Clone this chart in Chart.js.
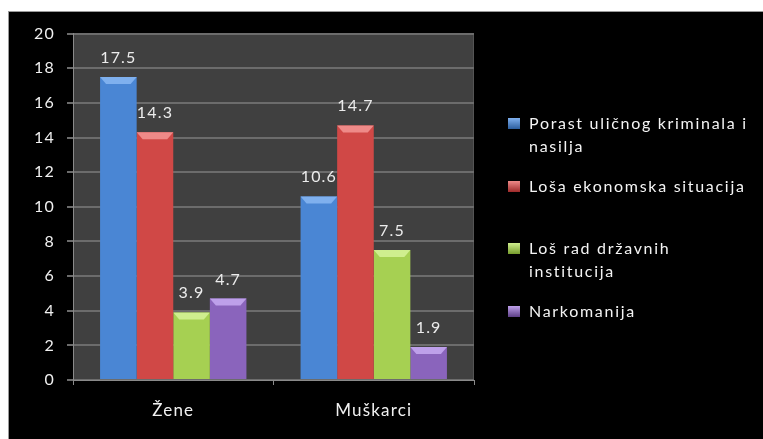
<!DOCTYPE html>
<html>
<head>
<meta charset="utf-8">
<script src="https://cdn.jsdelivr.net/npm/chart.js@4"></script>
<style>
  body { margin: 0; background: #fff; }
  #frame { position: absolute; left: 8px; top: 11px; width: 754px; height: 427px;
           background: #000; border-top: 1px solid #9a9a9a; border-left: 1px solid #9a9a9a; }
  canvas { display: block; }
</style>
</head>
<body>
<div id="frame"><canvas id="chart" width="754" height="427"></canvas></div>
<script>
// data
const categories = ['Žene', 'Muškarci'];
const seriesNames = [
  ['Porast uličnog kriminala i', 'nasilja'],
  ['Loša ekonomska situacija'],
  ['Loš rad državnih', 'institucija'],
  ['Narkomanija']
];
const kriminal = [17.5, 10.6];
const ekonomija = [14.3, 14.7];
const institucije = [3.9, 7.5];
const narkomanija = [4.7, 1.9];
const yTicks = [0, 2, 4, 6, 8, 10, 12, 14, 16, 18, 20];

// base colours: [edge, centre, top bevel]
const palette = [
  ['#2c5e9e', '#4a86d4', '#7fb0ee'],
  ['#9e2a2a', '#d04846', '#ee8a88'],
  ['#769c2c', '#a6d052', '#cfee8e'],
  ['#5d3f86', '#8a64bc', '#bea0ea']
];

const FONT = 'Lato, "Liberation Sans", sans-serif';
const ctx = document.getElementById('chart').getContext('2d');

function barGradient(i) {
  return function (c) {
    const el = c.element;
    if (!el || el.width === undefined) return palette[i][1];
    const x0 = el.x - el.width / 2, x1 = el.x + el.width / 2;
    const g = c.chart.ctx.createLinearGradient(x0, 0, x1, 0);
    g.addColorStop(0, palette[i][0]);
    g.addColorStop(0.3, palette[i][1]);
    g.addColorStop(0.6, palette[i][1]);
    g.addColorStop(1, palette[i][0]);
    return g;
  };
}

const plotBg = {
  id: 'plotBg',
  beforeDraw(chart) {
    const a = chart.chartArea, c = chart.ctx;
    c.letterSpacing = '1.2px';
    c.save();
    c.fillStyle = '#404040';
    c.fillRect(a.left, a.top, a.right - a.left, a.bottom - a.top);
    c.strokeStyle = '#555';
    c.strokeRect(a.left + 0.5, a.top + 0.5, a.right - a.left - 1, a.bottom - a.top - 1);
    c.restore();
  }
};

const bevelAndLabels = {
  id: 'bevelAndLabels',
  afterDatasetsDraw(chart) {
    const c = chart.ctx;
    c.save();
    chart.data.datasets.forEach((ds, i) => {
      chart.getDatasetMeta(i).data.forEach((bar, j) => {
        const l = bar.x - bar.width / 2, r = bar.x + bar.width / 2;
        const h = Math.min(7, bar.base - bar.y);
        c.fillStyle = palette[i][2];
        c.beginPath();
        c.moveTo(l, bar.y);
        c.lineTo(r, bar.y);
        c.lineTo(r - 6, bar.y + h);
        c.lineTo(l + 6, bar.y + h);
        c.closePath();
        c.fill();
        c.fillStyle = '#ececec';
        c.font = '16px ' + FONT;
        c.textAlign = 'center';
        c.textBaseline = 'alphabetic';
        c.fillText(ds.data[j].toFixed(1), bar.x, bar.y - 14);
      });
    });
    c.restore();
  }
};

const sideLegend = {
  id: 'sideLegend',
  afterDraw(chart) {
    const c = chart.ctx;
    const rows = [112, 175, 237, 300];
    c.save();
    c.font = '16px ' + FONT;
    c.letterSpacing = '1.7px';
    c.textBaseline = 'middle';
    c.textAlign = 'left';
    seriesNames.forEach((lines, i) => {
      const y = rows[i];
      const g = c.createLinearGradient(0, y - 6, 0, y + 5);
      g.addColorStop(0, palette[i][2]);
      g.addColorStop(1, palette[i][0]);
      c.fillStyle = g;
      c.fillRect(499, y - 6, 12, 11);
      c.fillStyle = '#f4f4f4';
      lines.forEach((t, k) => c.fillText(t, 520, y + k * 23));
    });
    c.restore();
  }
};

new Chart(ctx, {
  type: 'bar',
  data: {
    labels: categories,
    datasets: [kriminal, ekonomija, institucije, narkomanija].map((d, i) => ({
      label: seriesNames[i].join(' '),
      data: d,
      backgroundColor: barGradient(i),
      borderWidth: 0,
      categoryPercentage: 0.73,
      barPercentage: 1
    }))
  },
  options: {
    responsive: false,
    animation: false,
    layout: { padding: { top: 21, right: 289, left: 0, bottom: 0 } },
    plugins: { legend: { display: false }, tooltip: { enabled: false } },
    scales: {
      x: {
        grid: { drawOnChartArea: false, color: '#8a8a8a', tickLength: 5 },
        border: { color: '#8a8a8a' },
        ticks: { color: '#f0f0f0', font: { family: FONT, size: 17 }, padding: 15 },
        afterFit(s) { s.height = 59; }
      },
      y: {
        min: 0, max: 20,
        afterBuildTicks(s) { s.ticks = yTicks.map(v => ({ value: v })); },
        grid: { color: '#6c6c6c', lineWidth: 2, tickLength: 6 },
        border: { color: '#8a8a8a' },
        ticks: { color: '#f0f0f0', font: { family: FONT, size: 16 }, padding: 12 },
        afterFit(s) { s.width = 64; }
      }
    }
  },
  plugins: [plotBg, bevelAndLabels, sideLegend]
});
</script>
</body>
</html>
